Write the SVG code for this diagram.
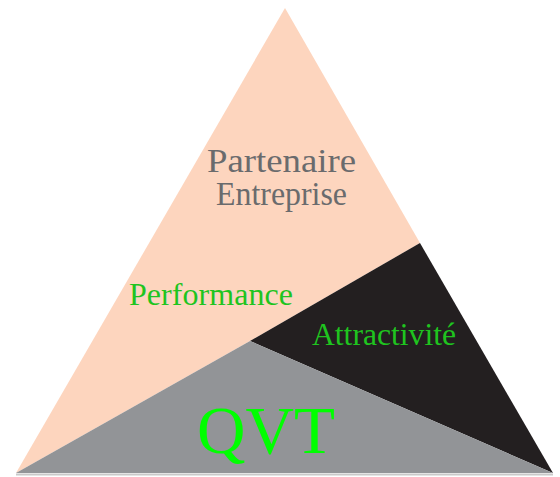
<svg xmlns="http://www.w3.org/2000/svg" width="560" height="477" viewBox="0 0 560 477">
  <style>
    .lbl { font-family: "Liberation Serif", "DejaVu Serif", serif; text-anchor: start; }
    .gray { fill: #6A6B6D; font-size: 33px; }
    .green { fill: #1FC41F; font-size: 32px; }
    .qvt { fill: #00FF00; font-size: 67px; }
  </style>
  <rect width="560" height="477" fill="#FFFFFF"/>
  <line x1="16" y1="474.5" x2="553" y2="474.5" stroke="#C9C9C9" stroke-width="2"/>
  <g id="partenaire">
    <polygon points="285,8 420,243 250,341 16,473" fill="#FDD5BE"/>
    <text class="lbl gray" x="207" y="172" textLength="149" lengthAdjust="spacingAndGlyphs">Partenaire</text>
    <text class="lbl gray" x="216" y="205" textLength="131" lengthAdjust="spacingAndGlyphs">Entreprise</text>
    <text class="lbl green" x="129" y="305" textLength="164" lengthAdjust="spacing">Performance</text>
  </g>
  <g id="attractivite">
    <polygon points="420,243 553,473 250,341" fill="#231F20"/>
    <text class="lbl green" x="312" y="345" textLength="144" lengthAdjust="spacingAndGlyphs">Attractivité</text>
  </g>
  <g id="qvt">
    <polygon points="250,341 553,473 16,473" fill="#929497"/>
    <text class="lbl qvt" x="197" y="453" textLength="138" lengthAdjust="spacingAndGlyphs">QVT</text>
  </g>
  <g id="connectors"/>
</svg>
